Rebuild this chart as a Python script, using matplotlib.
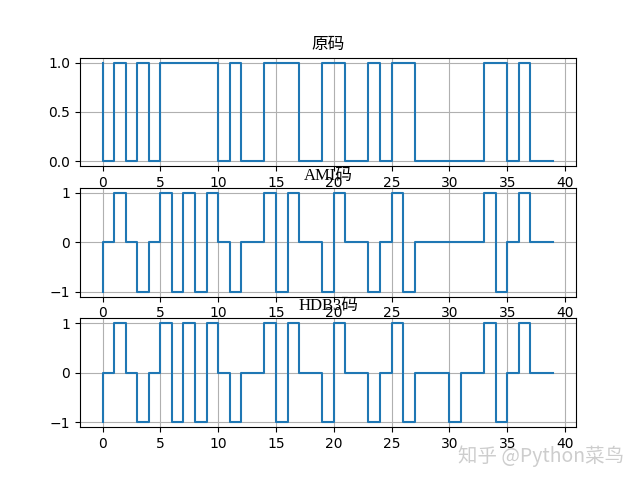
import matplotlib
matplotlib.use("Agg")
import matplotlib.pyplot as plt

cjk = ['Noto Sans CJK SC', 'DejaVu Sans']
title_fam = ['Liberation Serif', 'Noto Sans CJK SC']

x = list(range(40))
original = [1,
            0, 1, 0, 1, 0, 1, 1, 1, 1, 1,
            0, 1, 0, 0, 1, 1, 1, 0, 0, 1,
            1, 0, 0, 1, 0, 1, 1, 0, 0, 0,
            0, 0, 0, 1, 1, 0, 1, 0, 0]
ami = [-1,
       0, 1, 0, -1, 0, 1, -1, 1, -1, 1,
       0, -1, 0, 0, 1, -1, 1, 0, 0, -1,
       1, 0, 0, -1, 0, 1, -1, 0, 0, 0,
       0, 0, 0, 1, -1, 0, 1, 0, 0]
hdb3 = [-1,
        0, 1, 0, -1, 0, 1, -1, 1, -1, 1,
        0, -1, 0, 0, 1, -1, 1, 0, 0, -1,
        1, 0, 0, -1, 0, 1, -1, 0, 0, 0,
        -1, 0, 0, 1, -1, 0, 1, 0, 0]
titles = ['原码', 'AMI码', 'HDB3码']

fig, axes = plt.subplots(3, 1, figsize=(6.4, 4.8), dpi=100)
for ax, y, t in zip(axes, [original, ami, hdb3], titles):
    ax.step(x, y, where='pre')
    ax.set_title(t, fontsize=12, family=title_fam)
    ax.grid(True)

axes[0].set_yticks([0.0, 0.5, 1.0])
for ax in axes[1:]:
    ax.set_yticks([-1, 0, 1])

fig.text(0.975, 0.05, '知乎 @Python菜鸟', ha='right', va='center',
         fontsize=14, color='#c8c8c8', alpha=0.9, family=cjk)

fig.savefig('out.png', dpi=100)
